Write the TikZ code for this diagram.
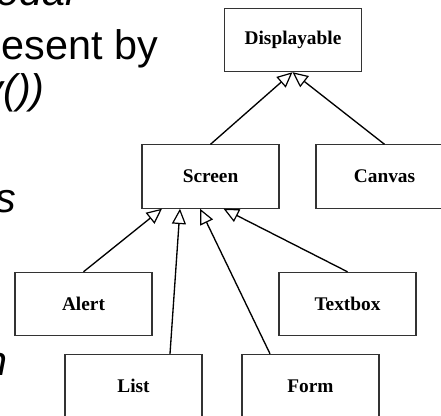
\documentclass[tikz,border=0pt]{standalone}
\usepackage{fontspec}
\setmainfont{Liberation Serif}
\newfontfamily\slidesans{Liberation Sans}
\usetikzlibrary{arrows.meta,calc}
\tikzset{
  cls/.style={draw=black!80, line width=0.8pt, minimum width=102.75pt, minimum height=47.5pt,
              inner sep=0pt, font=\fontsize{14.5}{16}\selectfont\bfseries, fill=white},
  inherit/.style={draw=black, line width=1pt,
              -{Triangle[open, length=11.5pt, width=10.5pt, line width=0.9pt]}},
  slide/.style={anchor=base east, inner sep=0pt, font=\slidesans\fontsize{31}{37}\selectfont},
}
\begin{document}
\begin{tikzpicture}[x=0.75pt, y=-0.75pt]
\useasboundingbox (0,0) rectangle (441,416);
\clip (0,0) rectangle (441,416);
\fill[white] (0,0) rectangle (441,416);
% slide text fragments
\node[slide] (t1) at (75,6) {\itshape odal};
\node[slide] (t2) at (158,60) {esent by};
\node[slide] (t3) at (45,104) {\itshape y())};
\node[slide] (t4) at (16,213) {\itshape s};
\node[slide] (t5) at (8,375) {\itshape n};
% classes
\node[cls] (disp) at (293,40) {Displayable};
\node[cls] (screen) at (210.5,176.5) {Screen};
\node[cls] (canvas) at (384.5,176.5) {Canvas};
\node[cls] (alert) at (83.5,304) {Alert};
\node[cls] (textbox) at (347.5,304) {Textbox};
\node[cls] (list) at (133.5,386) {List};
\node[cls] (form) at (310.5,386) {Form};
% inheritance
\draw[inherit] (screen.north) -- ($(disp.south)+(-0.5,0)$);
\draw[inherit] (canvas.north) -- ($(disp.south)+(-0.5,0)$);
\draw[inherit] (alert.north) -- ($(screen.south)+(-48.5,0)$);
\draw[inherit] ($(list.north)+(36.5,0)$) -- ($(screen.south)+(-30.5,0)$);
\draw[inherit] ($(form.north)+(-40.5,0)$) -- ($(screen.south)+(-10.5,0)$);
\draw[inherit] (textbox.north) -- ($(screen.south)+(13,0)$);
\end{tikzpicture}
\end{document}
